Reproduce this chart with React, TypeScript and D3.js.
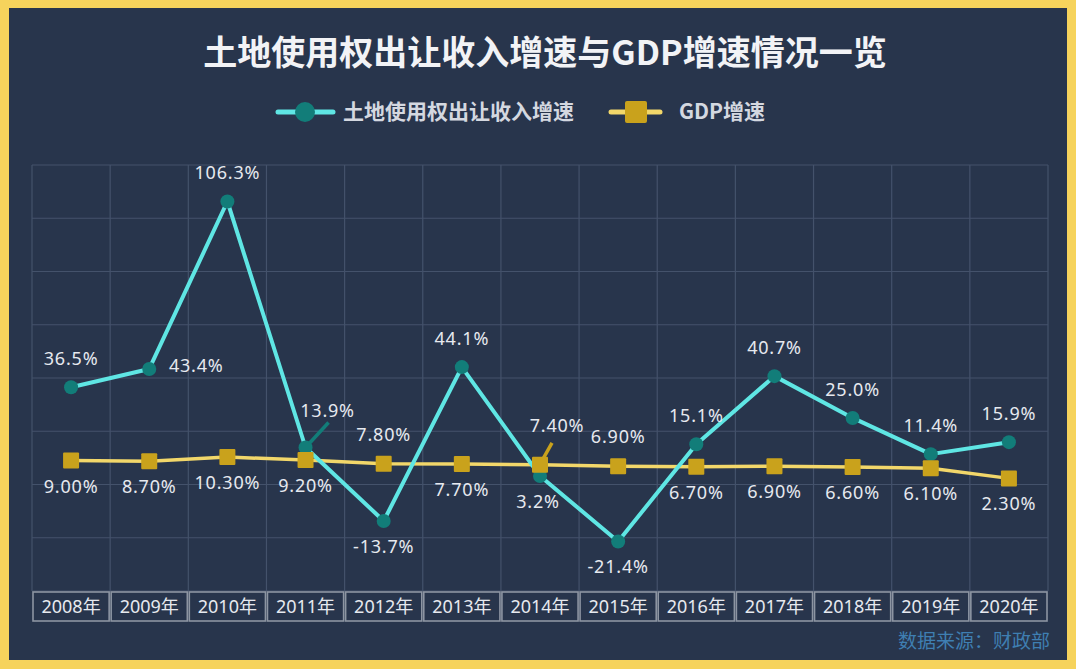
import React from "react";
import * as d3 from "d3";

const years = ["2008年","2009年","2010年","2011年","2012年","2013年","2014年","2015年","2016年","2017年","2018年","2019年","2020年"];
const landGrowth = [36.5, 43.4, 106.3, 13.9, -13.7, 44.1, 3.2, -21.4, 15.1, 40.7, 25.0, 11.4, 15.9];
const gdpGrowth = [9.0, 8.7, 10.3, 9.2, 7.8, 7.7, 7.4, 6.9, 6.7, 6.9, 6.6, 6.1, 2.3];
const landLabels = ["36.5%","43.4%","106.3%","13.9%","-13.7%","44.1%","3.2%","-21.4%","15.1%","40.7%","25.0%","11.4%","15.9%"];
const gdpLabels = ["9.00%","8.70%","10.30%","9.20%","7.80%","7.70%","7.40%","6.90%","6.70%","6.90%","6.60%","6.10%","2.30%"];
const landLabelPlace = ["above","right","above","leader","below","above","below","below","above","above","above","above","above"];
const gdpLabelPlace = ["below","below","below","below","above","below","leader","above","below","below","below","below","below"];
const yTicks = [-40, -20, 0, 20, 40, 60, 80, 100, 120];

const W = 1076, H = 669;
const FONT = "'Noto Sans', 'Noto Sans CJK SC', sans-serif";
const BG = "#28354c";
const CYAN = "#5fe6e4";
const TEAL = "#127d79";
const GOLD_LINE = "#f2d76a";
const GOLD = "#c9a21c";
const TXT = "#e6e9ef";

const plotL = 32, plotR = 1048, plotT = 165, plotB = 591, tableB = 622;

const x = d3.scaleBand<string>().domain(years).range([plotL, plotR]).padding(0);
const y = d3.scaleLinear().domain([-40, 120]).range([plotB, plotT]);
const cx = (i: number) => (x(years[i]) as number) + x.bandwidth() / 2;

const lineGen = d3.line<number>().x((_, i) => cx(i)).y((d) => y(d));

function offset(place: string) {
  switch (place) {
    case "above": return { dx: 0, dy: -22 };
    case "below": return { dx: 0, dy: 32 };
    case "right": return { dx: 47, dy: 3 };
    default: return { dx: 0, dy: -22 };
  }
}

export default function App() {
  const bw = x.bandwidth();
  return (
    <svg width={W} height={H} style={{ position: "absolute", left: 0, top: 0, display: "block" }} fontFamily={FONT}>
      <rect x={0} y={0} width={W} height={H} fill="#f6d35c" />
      <rect x={9} y={8} width={1058} height={652} fill={BG} />

      <text x={545} y={65} textAnchor="middle" fill="#f2f3f6" fontSize={34} fontWeight={700} fontFamily="'Noto Sans CJK SC', sans-serif">土地使用权出让收入增速与GDP增速情况一览</text>

      {/* legend */}
      <g>
        <line x1={278} x2={333} y1={112} y2={112} stroke={CYAN} strokeWidth={5} strokeLinecap="round" />
        <circle cx={305} cy={112} r={10} fill={TEAL} />
        <text x={343} y={119} fill="#d4d8e0" fontSize={21} fontWeight={700} fontFamily="'Noto Sans CJK SC', sans-serif">土地使用权出让收入增速</text>
        <line x1={611} x2={660} y1={112} y2={112} stroke={GOLD_LINE} strokeWidth={5} strokeLinecap="round" />
        <rect x={625} y={101} width={22} height={22} rx={2} fill={GOLD} />
        <text x={679} y={119} fill="#d4d8e0" fontSize={21} fontWeight={700} fontFamily="'Noto Sans CJK SC', sans-serif">GDP增速</text>
      </g>

      {/* grid */}
      <g stroke="#44526b" strokeWidth={1.2}>
        {yTicks.map((t) => (
          <line key={t} x1={plotL} x2={plotR} y1={y(t)} y2={y(t)} />
        ))}
        {years.map((yr) => (
          <line key={yr} x1={x(yr) as number} x2={x(yr) as number} y1={plotT} y2={plotB} />
        ))}
        <line x1={plotR} x2={plotR} y1={plotT} y2={plotB} />
      </g>

      {/* category table */}
      <g>
        {years.map((yr) => (
          <rect key={yr} x={(x(yr) as number) + 1} y={plotB + 1} width={bw - 2} height={tableB - plotB - 2} fill="none" stroke="#8d95a2" strokeWidth={1.6} />
        ))}
        {years.map((yr) => (
          <text key={yr} x={(x(yr) as number) + bw / 2} y={plotB + 22} textAnchor="middle" fill={TXT} fontSize={18}>{yr}</text>
        ))}
      </g>

      {/* lines */}
      <path d={lineGen(gdpGrowth) as string} fill="none" stroke={GOLD_LINE} strokeWidth={3.5} strokeLinejoin="round" />
      <path d={lineGen(landGrowth) as string} fill="none" stroke={CYAN} strokeWidth={4} strokeLinejoin="round" />

      {/* leader lines */}
      {landLabelPlace.map((p, i) => p === "leader" ? (
        <line key={"ll" + i} x1={cx(i)} y1={y(landGrowth[i])} x2={cx(i) + 23} y2={y(landGrowth[i]) - 25} stroke={TEAL} strokeWidth={3.5} />
      ) : null)}
      {landGrowth.map((v, i) => (
        <circle key={"lc" + i} cx={cx(i)} cy={y(v)} r={7} fill={TEAL} />
      ))}
      {gdpLabelPlace.map((p, i) => p === "leader" ? (
        <line key={"gl" + i} x1={cx(i) + 3} y1={y(gdpGrowth[i]) - 6} x2={cx(i) + 12} y2={y(gdpGrowth[i]) - 22} stroke={GOLD} strokeWidth={3.5} />
      ) : null)}
      {gdpGrowth.map((v, i) => (
        <rect key={"gr" + i} x={cx(i) - 8} y={y(v) - 8} width={16} height={16} rx={1} fill={GOLD} />
      ))}

      {/* labels */}
      <g fontSize={18} letterSpacing={0.8} fill={TXT}>
        {landGrowth.map((v, i) => {
          const p = landLabelPlace[i];
          let dx = 0, dy = 0;
          if (p === "leader") { dx = 22; dy = -30; }
          else if (i === 6) { dx = -2; dy = 32; }
          else { const o = offset(p); dx = o.dx; dy = o.dy; }
          return (
            <text key={"lt" + i} x={cx(i) + dx} y={y(v) + dy} textAnchor="middle">{landLabels[i]}</text>
          );
        })}
        {gdpGrowth.map((v, i) => {
          const p = gdpLabelPlace[i];
          let dx = 0, dy = 0;
          if (p === "leader") { dx = 17; dy = -33; }
          else { const o = offset(p); dx = o.dx; dy = p === "above" ? -23 : 32; }
          return (
            <text key={"gt" + i} x={cx(i) + dx} y={y(v) + dy} textAnchor="middle">{gdpLabels[i]}</text>
          );
        })}
      </g>

      <text x={1050} y={648} textAnchor="end" fill="#3f7fb2" fontSize={19} fontFamily="'Noto Sans CJK SC', sans-serif">数据来源：财政部</text>
    </svg>
  );
}
